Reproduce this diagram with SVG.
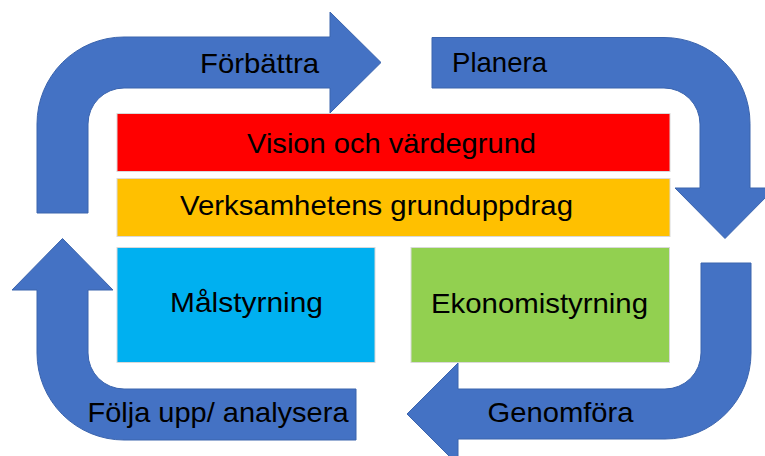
<svg xmlns="http://www.w3.org/2000/svg" width="765" height="456" viewBox="0 0 765 456">
<style>
.arr{fill:#4472C4;stroke:#3B64AD;stroke-width:1}
.box{stroke:#D9D9D9;stroke-width:1}
.t{font-family:"Liberation Sans",Arial,sans-serif;font-size:28px;fill:#000}
</style>
<rect width="765" height="456" fill="#fff"/>
<g id="connectors">
<g id="arrow-forbattra">
<path class="arr" d="M37,213 L37,124 A87,87 0 0 1 124,37 L330,37 L330,12 L381,62.5 L330,113 L330,88 L124,88 A36,36 0 0 0 88,124 L88,213 Z"/>
<text class="t" x="200" y="72.5" textLength="119" lengthAdjust="spacingAndGlyphs">Förbättra</text>
</g>
<g id="arrow-planera">
<path class="arr" d="M432,37.5 L664,37.5 A86,86 0 0 1 750,123.5 L750,188 L775,188 L725,238.5 L675,188 L700,188 L700,124 A36,36 0 0 0 664,88 L432,88 Z"/>
<text class="t" x="452" y="72" textLength="95" lengthAdjust="spacingAndGlyphs">Planera</text>
</g>
<g id="arrow-genomfora">
<path class="arr" d="M751,263 L751,353 A86,86 0 0 1 665,439 L458,439 L458,465 L407,414 L458,363 L458,389 L665,389 A36,36 0 0 0 701,353 L701,263 Z"/>
<text class="t" x="487.5" y="421.5" textLength="146" lengthAdjust="spacingAndGlyphs">Genomföra</text>
</g>
<g id="arrow-folja">
<path class="arr" d="M356,389 L124,389 A36,36 0 0 1 88,353 L88,290 L113,290 L62.5,238.5 L12,290 L37,290 L37,353 A87,87 0 0 0 124,440 L356,440 Z"/>
<text class="t" x="87.5" y="421.5" textLength="261" lengthAdjust="spacingAndGlyphs">Följa upp/ analysera</text>
</g>
</g>
<g id="vision">
<rect class="box" x="117" y="113.5" width="553" height="58" fill="#FF0000"/>
<text class="t" x="247" y="152.5" textLength="289" lengthAdjust="spacingAndGlyphs">Vision och värdegrund</text>
</g>
<g id="grunduppdrag">
<rect class="box" x="117" y="178.5" width="553" height="58" fill="#FFC000"/>
<text class="t" x="180" y="215" textLength="393" lengthAdjust="spacingAndGlyphs">Verksamhetens grunduppdrag</text>
</g>
<g id="malstyrning">
<rect class="box" x="117" y="247.5" width="258" height="115" fill="#00B0F0"/>
<text class="t" x="170" y="311.5" textLength="153" lengthAdjust="spacingAndGlyphs">Målstyrning</text>
</g>
<g id="ekonomistyrning">
<rect class="box" x="411" y="247.5" width="258.5" height="115" fill="#92D050"/>
<text class="t" x="431" y="312.5" textLength="217" lengthAdjust="spacingAndGlyphs">Ekonomistyrning</text>
</g>
</svg>
